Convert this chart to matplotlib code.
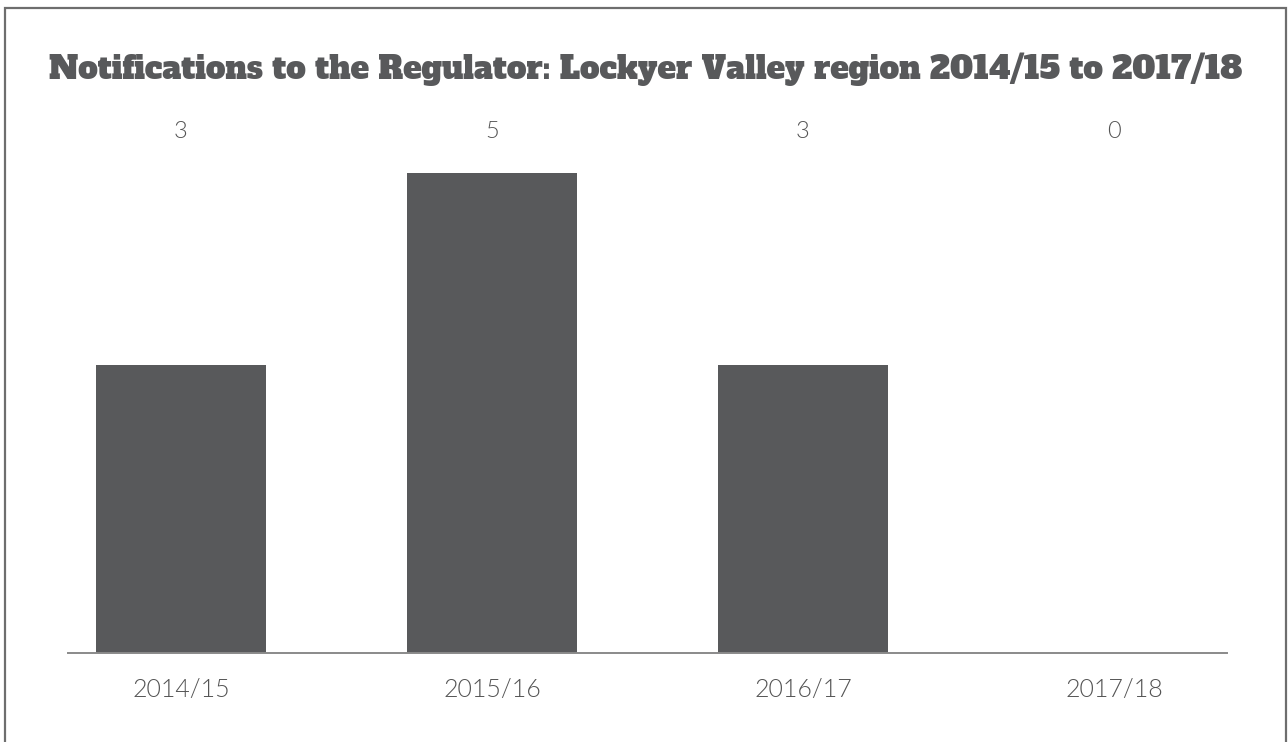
import matplotlib
matplotlib.use("Agg")
import matplotlib.pyplot as plt
from matplotlib.patches import Rectangle

categories = ["2014/15", "2015/16", "2016/17", "2017/18"]
values = [3, 5, 3, 0]
title = "Notifications to the Regulator: Lockyer Valley region 2014/15 to 2017/18"

bar_color = "#58595b"
text_color = "#545454"

fig = plt.figure(figsize=(12.88, 7.42), dpi=100)
fig.patch.set_facecolor("white")

# outer border
fig.patches.append(Rectangle((5/1288, -0.02), (1286-5)/1288, (742-8)/742 + 0.02,
                             transform=fig.transFigure, fill=False,
                             edgecolor="#6e6e6e", linewidth=1.6))

ax = fig.add_axes([68/1288, (742-653)/742, 1159/1288, 528/742])
x = list(range(len(categories)))
ax.bar(x, values, width=0.547, color=bar_color, zorder=2)
ax.set_xlim(-0.363, 3.363)
ax.set_ylim(0, 5.5)

for s in ["top", "right", "left"]:
    ax.spines[s].set_visible(False)
ax.spines["bottom"].set_color("#8a8a8a")
ax.spines["bottom"].set_linewidth(1.4)
ax.set_yticks([])
ax.set_xticks(x)
ax.set_xticklabels(categories, fontsize=18, color=text_color, family="Lato", fontweight=300)
ax.tick_params(axis="x", length=0, pad=18)

for xi, v in zip(x, values):
    ax.text(xi, 0.9886, str(v), transform=ax.get_xaxis_transform(),
            ha="center", va="center", fontsize=17, color=text_color,
            family="Lato", fontweight=300)

fig.text(0.5016, 1 - 79/742, title, ha="center", va="baseline", fontsize=22.4,
         color=bar_color, family="Alfa Slab One")

fig.savefig("out.png", dpi=100)
